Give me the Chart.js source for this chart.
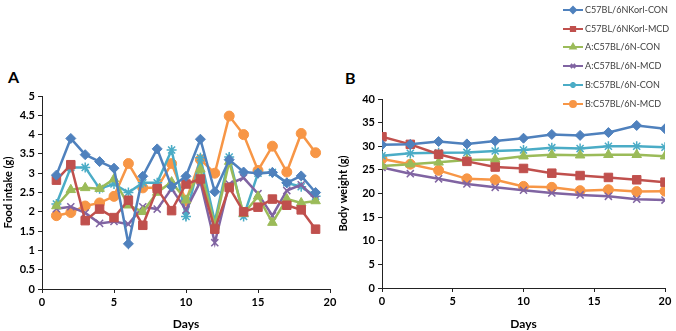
<!DOCTYPE html>
<html>
<head>
<meta charset="utf-8">
<script src="https://cdn.jsdelivr.net/npm/chart.js@4/dist/chart.umd.min.js"></script>
<style>
  body { margin: 0; background: #fff; width: 676px; height: 331px; overflow: hidden; position: relative; font-family: Lato, "Open Sans", sans-serif; }
  .panel { position: absolute; font-weight: bold; font-size: 16px; color: #000; }
  #wrapA { position: absolute; left: 0; top: 60px; width: 340px; height: 271px; }
  #wrapB { position: absolute; left: 335px; top: 0; width: 341px; height: 331px; }
</style>
</head>
<body>
<div class="panel" style="left:8px;top:67px;">A</div>
<div class="panel" style="left:345px;top:68px;">B</div>
<div id="wrapA"><canvas id="chartA"></canvas></div>
<div id="wrapB"><canvas id="chartB"></canvas></div>
<script>
// series names and styles
const seriesNames = ["C57BL/6NKorl-CON", "C57BL/6NKorl-MCD", "A:C57BL/6N-CON", "A:C57BL/6N-MCD", "B:C57BL/6N-CON", "B:C57BL/6N-MCD"];
const seriesColors = ["#4F81BD", "#C0504D", "#9BBB59", "#8064A2", "#4BACC6", "#F79646"];
const seriesPoints = ["rectRot", "rect", "triangle", "crossRot", "star", "circle"];
const pointSizes = [5, 6, 5.5, 5, 5, 5];

// panel A: food intake (g), days 1..19
const daysA = [1, 2, 3, 4, 5, 6, 7, 8, 9, 10, 11, 12, 13, 14, 15, 16, 17, 18, 19];
const foodKorlCon = [2.95, 3.9, 3.48, 3.3, 3.13, 1.17, 2.92, 3.63, 2.65, 2.92, 3.88, 2.52, 3.35, 3.03, 3.0, 3.02, 2.75, 2.93, 2.5];
const foodKorlMcd = [2.82, 3.22, 1.77, 2.07, 1.85, 2.3, 1.65, 2.6, 2.03, 2.72, 2.85, 1.55, 2.63, 2.0, 2.12, 2.33, 2.17, 2.05, 1.55];
const foodACon = [2.15, 2.57, 2.62, 2.6, 2.85, 2.17, 2.0, 2.5, 2.77, 2.3, 3.1, 1.65, 3.3, 1.95, 2.4, 1.72, 2.33, 2.23, 2.28];
const foodAMcd = [2.08, 2.13, 1.97, 1.7, 1.75, 1.68, 2.13, 2.07, 2.6, 2.05, 2.78, 1.2, 2.72, 2.88, 2.47, 1.9, 2.55, 2.7, 2.32];
const foodBCon = [2.2, 3.15, 3.15, 2.6, 2.72, 2.5, 2.75, 2.75, 3.6, 1.88, 3.4, 1.75, 3.42, 1.88, 3.0, 3.02, 2.75, 2.65, 2.4];
const foodBMcd = [1.9, 1.98, 2.15, 2.23, 2.4, 3.25, 2.62, 2.62, 3.25, 2.28, 3.35, 3.0, 4.48, 4.0, 3.07, 3.7, 3.03, 4.03, 3.53];

// panel B: body weight (g), days 0..20
const daysB = [0, 2, 4, 6, 8, 10, 12, 14, 16, 18, 20];
const bwKorlCon = [30.3, 30.4, 31.0, 30.5, 31.1, 31.7, 32.5, 32.3, 32.9, 34.4, 33.7];
const bwKorlMcd = [32.0, 30.4, 28.3, 26.8, 25.6, 25.3, 24.3, 23.8, 23.4, 22.9, 22.4];
const bwACon = [25.8, 26.2, 26.6, 27.1, 27.2, 27.9, 28.2, 28.1, 28.2, 28.2, 27.9];
const bwAMcd = [25.5, 24.2, 23.1, 22.0, 21.3, 20.7, 20.1, 19.7, 19.4, 18.8, 18.6];
const bwBCon = [28.0, 28.5, 28.6, 28.7, 29.0, 29.2, 29.7, 29.5, 30.0, 30.0, 29.8];
const bwBMcd = [27.3, 26.2, 24.9, 23.1, 22.9, 21.5, 21.3, 20.6, 20.8, 20.4, 20.5];

const fontFamily = "Lato, 'Open Sans', sans-serif";
const tickFont = { family: fontFamily, size: 11, weight: "bold" };

function makeDatasets(xs, seriesList) {
  return seriesList.map((vals, i) => ({
    label: seriesNames[i],
    data: vals.map((v, j) => ({ x: xs[j], y: v })),
    borderColor: seriesColors[i],
    backgroundColor: seriesColors[i],
    borderWidth: 2.5,
    pointStyle: seriesPoints[i],
    pointRadius: pointSizes[i],
    pointBorderWidth: (seriesPoints[i] === "crossRot" || seriesPoints[i] === "star") ? 1.5 : 1,
    tension: 0
  }));
}

function makeScales(yTitle, yMax, yStep, yWidth, xHeight) {
  const base = {
    type: "linear",
    grid: { drawOnChartArea: false, drawTicks: true, tickLength: 4, color: "#222" },
    border: { color: "#222", width: 1 }
  };
  return {
    x: Object.assign({}, base, {
      min: 0, max: 20,
      ticks: { color: "#000", font: tickFont, padding: 3, stepSize: 5, maxRotation: 0 },
      title: { display: true, text: "Days", color: "#000", padding: { top: 4, bottom: 0 }, font: { family: fontFamily, size: 12, weight: "bold" } },
      afterFit: (s) => { s.height = xHeight; }
    }),
    y: Object.assign({}, base, {
      min: 0, max: yMax,
      ticks: { color: "#000", font: tickFont, padding: 3, stepSize: yStep, callback: (v) => String(+v.toFixed(1)) },
      title: { display: true, text: yTitle, color: "#000", padding: { top: 2, bottom: 0 }, font: { family: fontFamily, size: 11, weight: "bold" } },
      afterFit: (s) => { s.width = yWidth; }
    })
  };
}

// legend drawn at the top right of panel B: line + marker + label
const sideLegend = {
  id: "sideLegend",
  afterDraw(chart) {
    const ctx = chart.ctx;
    const rows = [10, 29, 47, 66, 85, 104];
    ctx.save();
    ctx.font = "10px " + fontFamily;
    const squeeze = Math.min(1, 83 / ctx.measureText("C57BL/6NKorl-CON").width);
    chart.data.datasets.forEach((ds, i) => {
      const y = rows[i];
      ctx.strokeStyle = ds.borderColor;
      ctx.fillStyle = ds.borderColor;
      ctx.lineWidth = 2;
      ctx.beginPath();
      ctx.moveTo(228, y);
      ctx.lineTo(248, y);
      ctx.stroke();
      Chart.helpers.drawPoint(ctx, { pointStyle: ds.pointStyle, radius: 3, borderWidth: 1, rotation: 0 }, 238, y);
      ctx.save();
      ctx.translate(250, y);
      ctx.scale(squeeze, 1);
      ctx.fillStyle = "#404040";
      ctx.textBaseline = "middle";
      ctx.fillText(ds.label, 0, 0);
      ctx.restore();
    });
    ctx.restore();
  }
};

const commonOptions = (pad) => ({
  responsive: true,
  maintainAspectRatio: false,
  animation: false,
  layout: { padding: pad },
  plugins: { legend: { display: false }, tooltip: { enabled: false } }
});

new Chart(document.getElementById("chartA"), {
  type: "line",
  data: { datasets: makeDatasets(daysA, [foodKorlCon, foodKorlMcd, foodACon, foodAMcd, foodBCon, foodBMcd]) },
  options: Object.assign(commonOptions({ top: 36, right: 10, left: 0, bottom: 0 }), {
    scales: makeScales("Food intake (g)", 5, 0.5, 42, 42)
  })
});

new Chart(document.getElementById("chartB"), {
  type: "line",
  data: { datasets: makeDatasets(daysB, [bwKorlCon, bwKorlMcd, bwACon, bwAMcd, bwBCon, bwBMcd]) },
  options: Object.assign(commonOptions({ top: 99, right: 11, left: 0, bottom: 0 }), {
    scales: makeScales("Body weight (g)", 40, 5, 47, 43)
  }),
  plugins: [sideLegend]
});
</script>
</body>
</html>
